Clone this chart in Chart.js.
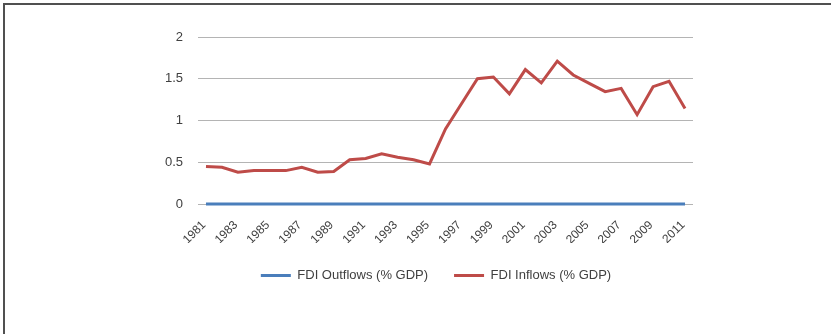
<!DOCTYPE html>
<html>
<head>
<meta charset="utf-8">
<script src="https://cdn.jsdelivr.net/npm/chart.js@4"></script>
<style>
  body { margin: 0; background: #fff; }
  #wrap { position: relative; width: 831px; height: 334px; }
  #frame { position: absolute; left: 3px; top: 3px; right: 0; bottom: 0;
           border-top: 2px solid #505050; border-left: 2px solid #505050; }
  #fdiChart { position: absolute; left: 0; top: 0; }
</style>
</head>
<body>
<div id="wrap">
  <div id="frame"></div>
  <canvas id="fdiChart" width="831" height="334"></canvas>
</div>
<script>
var years = ["1981", "1982", "1983", "1984", "1985", "1986", "1987", "1988", "1989", "1990",
             "1991", "1992", "1993", "1994", "1995", "1996", "1997", "1998", "1999", "2000",
             "2001", "2002", "2003", "2004", "2005", "2006", "2007", "2008", "2009", "2010", "2011"];
var outflows = [0, 0, 0, 0, 0, 0, 0, 0, 0, 0,
                0, 0, 0, 0, 0, 0, 0, 0, 0, 0,
                0, 0, 0, 0, 0, 0, 0, 0, 0, 0, 0];
var inflows = [0.45, 0.44, 0.38, 0.40, 0.40, 0.40, 0.44, 0.38, 0.39, 0.53,
               0.545, 0.60, 0.56, 0.53, 0.48, 0.90, 1.20, 1.50, 1.52, 1.32,
               1.61, 1.45, 1.71, 1.545, 1.445, 1.345, 1.385, 1.07, 1.405, 1.47, 1.145];
var yTicks = [0, 0.5, 1, 1.5, 2];

var ctx = document.getElementById("fdiChart").getContext("2d");
var fdiChart = new Chart(ctx, {
    type: 'line',
    data: {
        labels: years,
        datasets: [{
            label: 'FDI Outflows (% GDP)',
            data: outflows,
            borderColor: '#4a7ebb',
            backgroundColor: '#4a7ebb',
            borderWidth: 3,
            pointRadius: 0,
            tension: 0,
            clip: 4
        }, {
            label: 'FDI Inflows (% GDP)',
            data: inflows,
            borderColor: '#be4b48',
            backgroundColor: '#be4b48',
            borderWidth: 3,
            pointRadius: 0,
            tension: 0,
            clip: 4
        }]
    },
    options: {
        responsive: false,
        animation: false,
        layout: { padding: { left: 158, right: 117, top: 37, bottom: 42 } },
        plugins: {
            tooltip: { enabled: false },
            legend: {
                position: 'bottom',
                labels: {
                    usePointStyle: true,
                    pointStyle: 'line',
                    pointStyleWidth: 30,
                    padding: 26,
                    color: '#404040',
                    font: { family: 'Liberation Sans', size: 13 }
                }
            }
        },
        scales: {
            x: {
                offset: true,
                grid: { display: false },
                border: { display: false },
                afterFit: function (s) { s.height = 39; },
                ticks: {
                    autoSkip: false,
                    minRotation: 45,
                    maxRotation: 45,
                    padding: 6,
                    labelOffset: -2,
                    color: '#404040',
                    font: { family: 'Liberation Sans', size: 12 },
                    callback: function (v, i) { return i % 2 === 0 ? years[i] : ''; }
                }
            },
            y: {
                min: 0,
                max: 2,
                afterFit: function (s) { s.width = 40; },
                afterBuildTicks: function (s) { s.ticks = yTicks.map(function (v) { return { value: v }; }); },
                grid: { color: '#b4b4b4', lineWidth: 1, drawTicks: false },
                border: { display: false },
                ticks: {
                    padding: 15,
                    color: '#404040',
                    font: { family: 'Liberation Sans', size: 13 },
                    callback: function (v) { return String(v); }
                }
            },
            spacer: {
                position: 'right',
                afterFit: function (s) { s.width = 21; },
                grid: { display: false },
                border: { display: false },
                ticks: { display: false }
            }
        }
    }
});
</script>
</body>
</html>
